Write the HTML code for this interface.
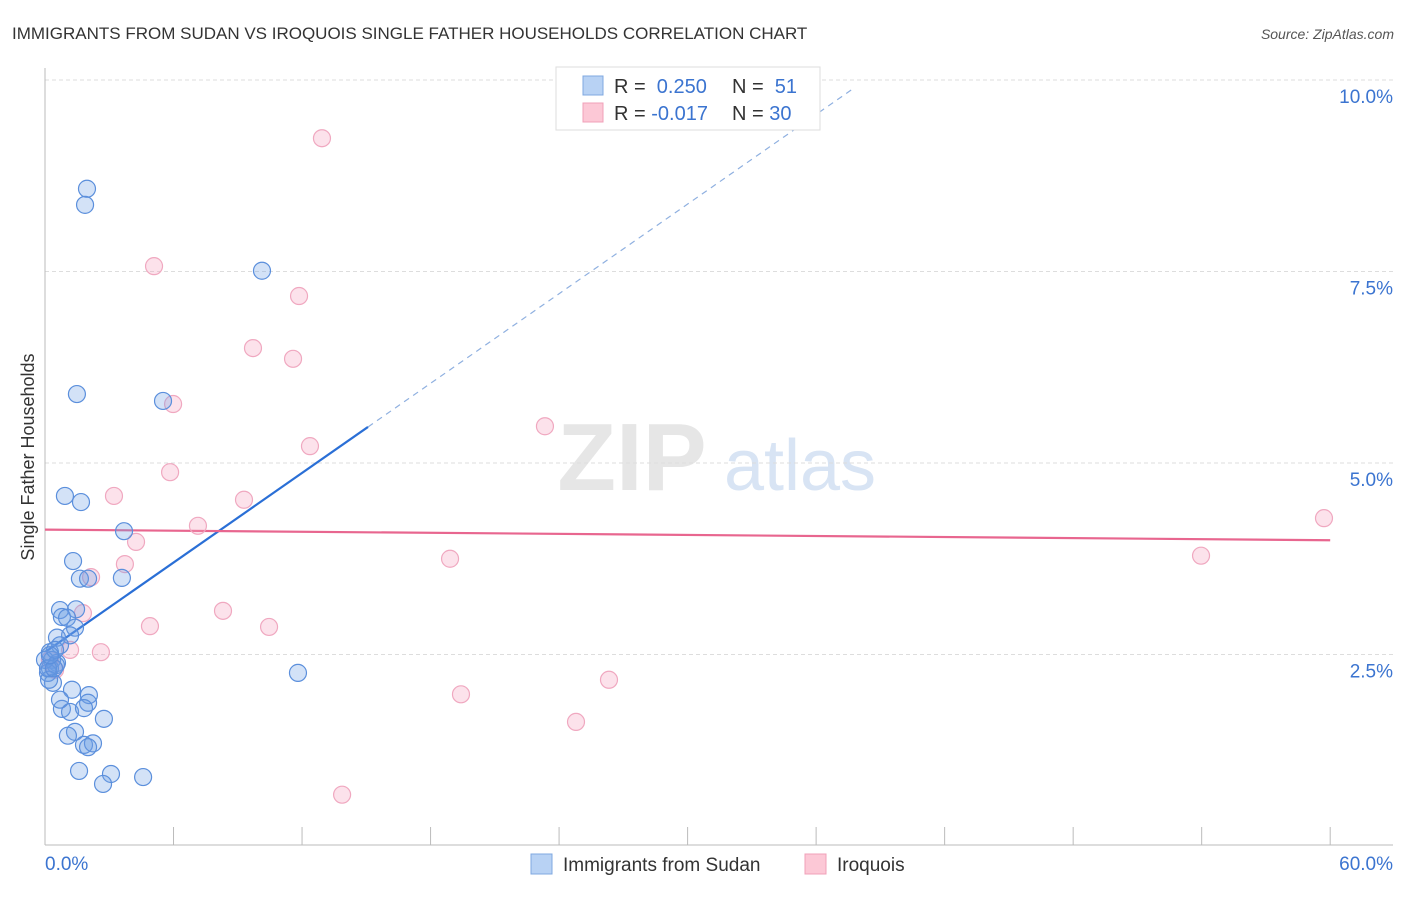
<!DOCTYPE html>
<html><head><meta charset="utf-8"><style>
body{margin:0;background:#fff;font-family:"Liberation Sans",sans-serif;}
svg text{font-family:"Liberation Sans",sans-serif;}
</style></head><body>
<svg id="chart" width="1406" height="892" viewBox="0 0 1406 892" xmlns="http://www.w3.org/2000/svg">
<text x="12" y="39" font-size="17" fill="#333">IMMIGRANTS FROM SUDAN VS IROQUOIS SINGLE FATHER HOUSEHOLDS CORRELATION CHART</text>
<text x="1394" y="39" font-size="14" fill="#555" text-anchor="end" font-style="italic">Source: ZipAtlas.com</text>
<g>
<text x="632" y="490" font-size="96" fill="#e6e6e6" text-anchor="middle" font-family="Liberation Serif" font-weight="bold">ZIP</text>
<text x="800" y="490" font-size="72" fill="#d8e4f4" text-anchor="middle">atlas</text>
</g>
<g id="grid"></g>
<g id="axes"></g>
<g id="lines"></g>
<g id="points"></g>
<text transform="translate(34,457) rotate(-90)" font-size="18" fill="#333" text-anchor="middle">Single Father Households</text>
<g>
<rect x="556" y="67" width="264" height="63" fill="#fff" stroke="#ddd"/>
<rect x="583" y="76" width="20" height="19" fill="#b8d2f4" stroke="#7fa8e0"/>
<rect x="583" y="103" width="20" height="19" fill="#fcc8d6" stroke="#f0a0b8"/>
<text x="614" y="93" font-size="20" fill="#333">R = <tspan fill="#3b74d0">&#160;0.250</tspan></text>
<text x="732" y="93" font-size="20" fill="#333">N = <tspan fill="#3b74d0">&#160;51</tspan></text>
<text x="614" y="120" font-size="20" fill="#333">R = <tspan fill="#3b74d0">-0.017</tspan></text>
<text x="732" y="120" font-size="20" fill="#333">N = <tspan fill="#3b74d0">30</tspan></text>
</g>
<g>
<rect x="531" y="854" width="21" height="20" fill="#b8d2f4" stroke="#7fa8e0"/>
<text x="563" y="871" font-size="19" fill="#333">Immigrants from Sudan</text>
<rect x="805" y="854" width="21" height="20" fill="#fcc8d6" stroke="#f0a0b8"/>
<text x="837" y="871" font-size="19" fill="#333">Iroquois</text>
</g>
</svg>
<script>
const blueX=[1.96,1.87,10.13,1.49,5.51,0.93,1.68,3.69,1.31,1.63,2.01,3.59,0.70,1.45,0.79,1.03,1.40,1.17,0.56,0.70,0.23,0.33,0.56,0.23,0.51,0.14,0.37,11.81,1.26,2.05,2.01,0.79,1.17,1.82,2.75,1.40,1.07,1.82,2.24,2.01,1.59,3.08,2.71,4.58,0.19,0.0,0.47,0.14,0.70,0.42,0.23];
const blueY=[8.58,8.37,7.51,5.90,5.81,4.57,4.49,4.11,3.72,3.49,3.49,3.50,3.08,3.09,2.99,2.98,2.85,2.75,2.72,2.62,2.53,2.43,2.39,2.32,2.36,2.26,2.13,2.26,2.04,1.97,1.87,1.79,1.75,1.80,1.66,1.49,1.44,1.32,1.34,1.29,0.98,0.94,0.81,0.90,2.17,2.43,2.56,2.32,1.91,2.32,2.49];
const pinkX=[12.93,5.09,11.86,9.71,11.58,5.98,12.37,23.34,5.84,3.22,9.29,7.14,4.25,3.73,2.15,18.91,1.77,8.31,4.90,10.46,2.61,1.17,19.42,26.33,24.79,13.87,59.71,53.97,0.47,0.23];
const pinkY=[9.24,7.57,7.18,6.50,6.36,5.77,5.22,5.48,4.88,4.57,4.52,4.18,3.97,3.68,3.51,3.75,3.04,3.07,2.87,2.86,2.53,2.56,1.98,2.17,1.62,0.67,4.28,3.79,2.30,2.43];
const blueTrend=[2.53,0.195];
const pinkTrend=[4.13,-0.0023];
const yTicks=[2.5,5.0,7.5,10.0];
const xTickLabels=["0.0%","60.0%"];
const NS="http://www.w3.org/2000/svg";
const sx=v=>45+v*21.42;
const sy=v=>846-v*76.6;
function mk(tag,attrs,parent){const e=document.createElementNS(NS,tag);for(const k in attrs)e.setAttribute(k,attrs[k]);document.getElementById(parent).appendChild(e);return e;}
yTicks.forEach(t=>{
 const g=mk('line',{x1:45,x2:1393,y1:sy(t),y2:sy(t),stroke:'#ddd','stroke-dasharray':'4,3'},'grid');
 
 
 const l=mk('text',{x:1393,y:sy(t)+23,'font-size':19,fill:'#3b74d0','text-anchor':'end'},'grid');
 l.textContent=t.toFixed(1)+'%';
 
 
});
const ax=mk('line',{x1:45,x2:1393,y1:845,y2:845,stroke:'#bbb'},'axes');


const ay=mk('line',{x1:45,x2:45,y1:68,y2:845,stroke:'#bbb'},'axes');


for(let i=0;i<=10;i++){
 const t=mk('line',{x1:sx(i*6),x2:sx(i*6),y1:827,y2:845,stroke:'#bbb'},'axes');
 
 
}
const xl0=mk('text',{x:45,y:870,'font-size':19,fill:'#3b74d0'},'axes');
xl0.textContent=xTickLabels[0];


const xl1=mk('text',{x:1393,y:870,'font-size':19,fill:'#3b74d0','text-anchor':'end'},'axes');
xl1.textContent=xTickLabels[1];


function pts(X,Y,fill,stroke,name){X.forEach((x,i)=>{
 const c=mk('circle',{cx:sx(x),cy:sy(Y[i]),r:8.5,fill:fill,stroke:stroke,'stroke-width':1.2},'points');
 
 
});}
pts(pinkX,pinkY,'rgba(245,160,190,0.3)','#f0a8c0','iroquois-point');
pts(blueX,blueY,'rgba(110,160,230,0.3)','#5b8fdc','sudan-point');
const bl=mk('line',{x1:sx(0),y1:sy(blueTrend[0]),x2:sx(15.08),y2:sy(blueTrend[0]+blueTrend[1]*15.08),stroke:'#2a6fd6','stroke-width':2.2},'lines');


const bd=mk('line',{x1:sx(15.08),y1:sy(blueTrend[0]+blueTrend[1]*15.08),x2:sx(37.8),y2:sy(blueTrend[0]+blueTrend[1]*37.8),stroke:'#8fb0e0','stroke-width':1.2,'stroke-dasharray':'6,5'},'lines');


const pl=mk('line',{x1:sx(0),y1:sy(pinkTrend[0]),x2:sx(60),y2:sy(pinkTrend[0]+pinkTrend[1]*60),stroke:'#e8668f','stroke-width':2.2},'lines');


</script>
</body></html>
